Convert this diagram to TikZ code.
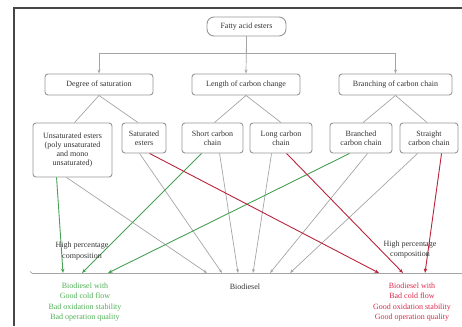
\documentclass[tikz,border=0pt]{standalone}
\usepackage{fontspec}
\setmainfont{Liberation Serif}
\usetikzlibrary{arrows.meta}
\definecolor{boxgray}{RGB}{150,150,150}
\definecolor{lngray}{RGB}{165,165,165}
\definecolor{lngreen}{RGB}{70,160,85}
\definecolor{lnred}{RGB}{185,35,60}
\definecolor{txgreen}{RGB}{80,175,85}
\definecolor{txred}{RGB}{220,40,75}
\definecolor{frame}{RGB}{70,70,70}
\tikzset{
  box/.style={draw=boxgray, line width=0.9pt, rounded corners=3pt, align=center,
    font=\fontsize{8}{9}\selectfont, inner sep=1pt, text=black!80},
  topbox/.style={box, rounded corners=7pt},
  gline/.style={draw=lngray, line width=0.7pt},
  garr/.style={gline, -{Stealth[length=4pt,width=3pt]}},
  grarr/.style={draw=lngreen, line width=0.9pt, -{Stealth[length=4.5pt,width=3.5pt]}},
  rdarr/.style={draw=lnred, line width=0.9pt, -{Stealth[length=4.5pt,width=3.5pt]}},
  lbl/.style={align=center, font=\fontsize{8}{10.6}\selectfont, inner sep=0pt}
}
\begin{document}
\begin{tikzpicture}[x=1pt,y=-1pt]
\useasboundingbox (0,0) rectangle (462,326);
% frame
\draw[frame, line width=1.1pt] (14,326) -- (14,8) -- (462,8);
% boxes
\node[topbox, minimum width=79pt, minimum height=19pt] (top) at (246.5,26.5) {Fatty acid esters};
\node[box, minimum width=108pt, minimum height=21pt] (deg) at (99,84.5) {Degree of saturation};
\node[box, minimum width=108pt, minimum height=21pt] (len) at (246,84.5) {Length of carbon change};
\node[box, minimum width=113pt, minimum height=21pt] (bra) at (395.5,84.5) {Branching of carbon chain};
\node[box, minimum width=79pt, minimum height=54pt] (uns) at (72.5,150) {Unsaturated esters\\(poly unsaturated\\and mono\\unsaturated)};
\node[box, minimum width=44pt, minimum height=30pt] (sat) at (144,138) {Saturated\\esters};
\node[box, minimum width=61pt, minimum height=30pt] (sho) at (212.5,138) {Short carbon\\chain};
\node[box, minimum width=62pt, minimum height=30pt] (lon) at (281,138) {Long carbon\\chain};
\node[box, minimum width=62pt, minimum height=30pt] (brc) at (361,138) {Branched\\carbon chain};
\node[box, minimum width=58pt, minimum height=30pt] (str) at (429,138) {Straight\\carbon chain};
% tree connectors
\draw[garr] (top.south) -- (len.north);
\draw[garr] (top.south) -- ++(0,17) -| (deg.north);
\draw[garr] (top.south) -- ++(0,17) -| (bra.north);
\draw[gline] (deg.south) -- ([xshift=2pt]uns.north);
\draw[gline] (deg.south) -- ([xshift=-6pt]sat.north);
\draw[gline] (len.south) -- ([xshift=2pt]sho.north);
\draw[gline] (len.south) -- (lon.north);
\draw[gline] (bra.south) -- ([xshift=2pt]brc.north);
\draw[gline] (bra.south) -- ([xshift=-2pt]str.north);
% baseline
\coordinate (bl) at (32,273);
\coordinate (br) at (462,273);
\draw[gline] (bl) -- (br);
\draw[gline] (bl) -- ++(-2,-1.5);
% arrow end points
\coordinate (e1) at (63,273);
\coordinate (e2) at (82,273);
\coordinate (e3) at (108,273);
\coordinate (e4) at (207,273);
\coordinate (e5) at (222,273);
\coordinate (e6) at (238,273);
\coordinate (e7) at (253,273);
\coordinate (e8) at (270,273);
\coordinate (e9) at (290,273);
\coordinate (e10) at (379,273);
\coordinate (e11) at (403,273);
\coordinate (e12) at (425,273);
% gray arrows
\draw[garr] ([xshift=34pt]uns.south west) -- (e4);
\draw[garr] ([xshift=18pt]sat.south west) -- (e5);
\draw[garr] ([xshift=38pt]sho.south west) -- (e6);
\draw[garr] ([xshift=22pt]lon.south west) -- (e7);
\draw[garr] ([xshift=38pt]brc.south west) -- (e8);
\draw[garr] ([xshift=18pt]str.south west) -- (e9);
% green arrows
\draw[grarr] ([xshift=24pt]uns.south west) -- (e1);
\draw[grarr] ([xshift=20pt]sho.south west) -- (e2);
\draw[grarr] ([xshift=20pt]brc.south west) -- (e3);
% red arrows
\draw[rdarr] ([xshift=28pt]sat.south west) -- (e10);
\draw[rdarr] ([xshift=37pt]lon.south west) -- (e11);
\draw[rdarr] ([xshift=42pt]str.south west) -- (e12);
% labels
\node[lbl, text=black!80] (hpl) at (82,251) {High percentage\\composition};
\node[lbl, text=black!80] (hpr) at (410,249.5) {High percentage\\composition};
\node[lbl, text=black!80] (bio) at (245,287) {Biodiesel};
\node[lbl, text=txgreen] (gtxt) at (85,302) {Biodiesel with\\Good cold flow\\Bad oxidation stability\\Bad operation quality};
\node[lbl, text=txred] (rtxt) at (412,302) {Biodiesel with\\Bad cold flow\\Good oxidation stability\\Good operation quality};
\end{tikzpicture}
\end{document}
